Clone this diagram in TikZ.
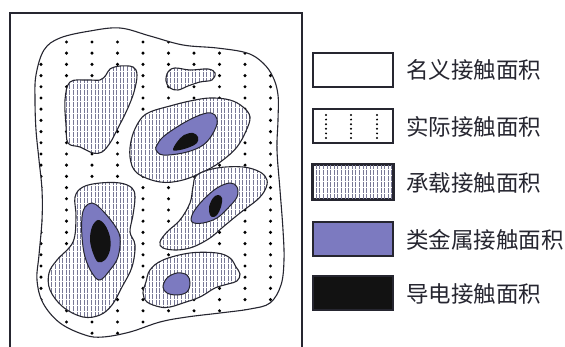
\documentclass[tikz,border=0pt]{standalone}
\usepackage{fontspec}
\newfontfamily\cjk{Noto Sans CJK SC}
\definecolor{metal}{RGB}{124,122,192}
\definecolor{cond}{RGB}{18,18,18}
\definecolor{ink}{RGB}{38,38,48}
\definecolor{hatchc}{RGB}{120,120,150}

\tikzset{
  outline/.style={draw=ink, line width=1.1pt},
  hatchline/.style={draw=hatchc, line width=0.5pt, dash pattern=on 0.6pt off 0.6pt},
  keybox/.style={draw=ink, line width=2pt},
  keytext/.style={anchor=west, inner sep=0pt, font=\cjk\fontsize{22.5}{22.5}\selectfont, text=ink},
}

% contact zones (pixel-like units, y pointing down)
\newcommand\zoneOuter{plot[smooth cycle,tension=.6] coordinates {(36,75) (44,50) (60,38) (90,31) (120,28) (150,36) (183,45) (217,48) (247,53) (263,63) (273,77) (278,95) (278,120) (277,150) (280,190) (283,230) (284,260) (281,285) (270,303) (250,309) (220,313) (187,317) (160,322) (130,332) (103,337) (85,335) (60,323) (43,303) (37,280) (39,255) (42,220) (42,190) (39,160) (36,130) (35,100)}}
\newcommand\zoneA{plot[smooth cycle,tension=.6] coordinates {(70,82) (87,80) (100,80) (106,75) (110,69) (120,66) (133,67) (137,75) (134,92) (127,110) (117,130) (110,143) (102,152) (93,153) (80,147) (68,143) (66,125) (65,100)}}
\newcommand\zoneB{plot[smooth cycle,tension=.6] coordinates {(168,72) (175,68) (190,70) (208,69) (215,73) (212,80) (200,82) (188,86) (178,90) (170,88) (166,81)}}
\newcommand\zoneC{plot[smooth cycle,tension=.6] coordinates {(140,120) (150,112) (170,106) (190,101) (210,98) (230,100) (243,107) (250,117) (246,131) (237,147) (223,160) (207,170) (183,180) (160,182) (137,173) (130,157) (132,137)}}
\newcommand\metalC{plot[smooth cycle,tension=.6] coordinates {(157,145) (163,137) (177,127) (193,118) (207,113) (215,115) (217,124) (210,138) (200,147) (183,153) (163,155) (156,150)}}
\newcommand\condC{plot[smooth cycle,tension=.6] coordinates {(173,150) (177,142) (184,135) (193,133) (198,137) (197,143) (190,147) (180,150)}}
\newcommand\zoneD{plot[smooth cycle,tension=.6] coordinates {(197,175) (217,168) (243,167) (260,172) (267,180) (265,190) (257,200) (240,213) (223,227) (210,238) (193,247) (177,250) (163,248) (160,242) (167,232) (180,220) (190,203) (193,187)}}
\newcommand\metalD{plot[smooth cycle,tension=.6] coordinates {(192,222) (193,213) (203,200) (217,188) (230,183) (237,187) (237,197) (228,208) (217,218) (203,223)}}
\newcommand\condD{plot[smooth cycle,tension=.6] coordinates {(210,215) (209,207) (213,198) (218,195) (222,198) (221,207) (217,215) (213,217)}}
\newcommand\zoneE{plot[smooth cycle,tension=.6] coordinates {(83,187) (100,183) (120,183) (132,188) (135,197) (133,215) (130,232) (135,245) (132,267) (122,287) (112,305) (100,315) (83,317) (63,307) (50,290) (49,273) (57,260) (73,242) (76,217) (75,197)}}
\newcommand\metalE{plot[smooth cycle,tension=.6] coordinates {(85,207) (92,203) (100,208) (113,223) (120,237) (118,257) (110,270) (100,280) (92,273) (85,257) (82,237) (82,217)}}
\newcommand\condE{plot[smooth cycle,tension=.6] coordinates {(92,227) (98,220) (105,225) (110,237) (110,250) (105,260) (98,262) (93,253) (90,240)}}
\newcommand\zoneF{plot[smooth cycle,tension=.6] coordinates {(150,270) (163,260) (190,253) (217,253) (230,258) (236,267) (240,274) (237,281) (228,284) (215,288) (200,297) (183,303) (170,307) (160,307) (147,302) (143,293) (146,282)}}
\newcommand\metalF{plot[smooth cycle,tension=.6] coordinates {(163,287) (167,278) (177,273) (187,275) (190,283) (187,292) (177,295) (167,293)}}

% a load-bearing zone: white ground, fine vertical dotted rules, outline
\newcommand\bearing[1]{%
  \begin{scope}
    \clip #1;
    \fill[white] (0,0) rectangle (300,347);
    \foreach \hx in {30,33.6,...,290} \draw[hatchline] (\hx,20) -- (\hx,340);
  \end{scope}
  \draw[outline] #1;}

\begin{document}
\begin{tikzpicture}[x=1pt,y=-1pt]
\useasboundingbox (0,0) rectangle (565,347);
\fill[white] (0,0) rectangle (565,347);

% frame, open at the bottom
\draw[ink, line width=2.2pt] (10,347) -- (10,13) -- (302,13) -- (302,347);

% nominal area with the scattered real contact spots
\fill[white] \zoneOuter;
\begin{scope}
  \clip \zoneOuter;
  \foreach \gx in {41,66.5,...,290}
    \foreach \gy in {42,53.2,...,340}
      \fill[black] (\gx,\gy) circle (1.7pt);
\end{scope}
\draw[outline] \zoneOuter;

% load-bearing zones
\bearing{\zoneA}
\bearing{\zoneB}
\bearing{\zoneC}
\bearing{\zoneD}
\bearing{\zoneE}
\bearing{\zoneF}

% quasi-metallic zones
\filldraw[fill=metal, draw=ink, line width=1pt] \metalC;
\filldraw[fill=metal, draw=ink, line width=1pt] \metalD;
\filldraw[fill=metal, draw=ink, line width=1pt] \metalE;
\filldraw[fill=metal, draw=ink, line width=1pt] \metalF;

% conducting spots
\fill[cond] \condC;
\fill[cond] \condD;
\fill[cond] \condE;

% key
\node[keybox, fill=white, minimum width=80pt, minimum height=34pt, inner sep=0pt] (k1) at (353,70) {};
\node[keybox, fill=white, minimum width=80pt, minimum height=34pt, inner sep=0pt] (k2) at (353,126.5) {};
\node[keybox, fill=white, minimum width=80pt, minimum height=34pt, inner sep=0pt] (k3) at (353,182.5) {};
\node[keybox, fill=metal, minimum width=80pt, minimum height=34pt, inner sep=0pt] (k4) at (353,239.5) {};
\node[keybox, fill=cond, minimum width=80pt, minimum height=34pt, inner sep=0pt] (k5) at (353,293.5) {};

\foreach \kx in {326,351,377}
  \foreach \ky in {115,119.6,...,139}
    \fill[black] (\kx,\ky) circle (1.1pt);

\begin{scope}
  \clip (k3.south west) rectangle (k3.north east);
  \foreach \hx in {316,319.6,...,392} \draw[hatchline] (\hx,160) -- (\hx,205);
\end{scope}
\draw[keybox] (k3.south west) rectangle (k3.north east);

\node[keytext] (t1) at (406,70) {名义接触面积};
\node[keytext] (t2) at (406,126.5) {实际接触面积};
\node[keytext] (t3) at (406,182.5) {承载接触面积};
\node[keytext] (t4) at (406,239.5) {类金属接触面积};
\node[keytext] (t5) at (406,293.5) {导电接触面积};
\end{tikzpicture}
\end{document}
